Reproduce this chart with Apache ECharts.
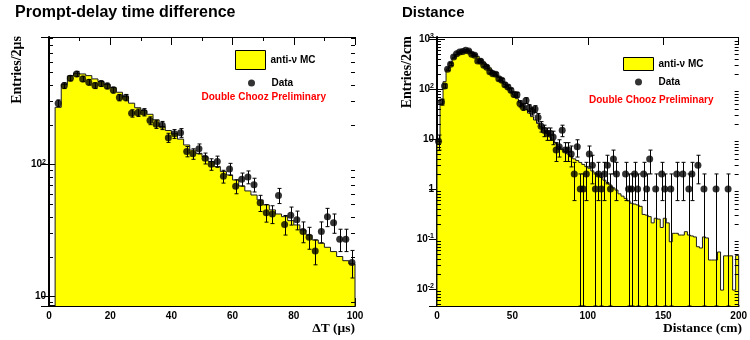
<!DOCTYPE html>
<html><head><meta charset="utf-8">
<script src="https://cdn.jsdelivr.net/npm/echarts@6/dist/echarts.min.js"></script>
<style>html,body{margin:0;padding:0;background:#fff}#c{width:750px;height:340px}</style>
</head><body><div id="c"></div>
<script>
// ---------------- DATA ----------------
// Left: prompt-delay time difference, 2 us bins starting at 2 us
const dtBinStart = 2, dtBinWidth = 2;
const dtMC = [270,403,467,489,483,469,443,423,403,381,351,325,290,268,255,239,217,193,180,170,
  155,140,128,121,114,105,96,88,83,76,68.5,62.8,58.5,53.7,49.2,45.1,42.0,40.1,37.4,34.7,
  31.8,29.1,26.7,25.2,23.5,21.8,20.0,18.6,17.6];
const dtData = [290,394,449,483,443,418,394,408,392,365,320,320,243,246,248,214,201,197,159,170,
  173,125,120,131,111,100,105,81,92,68,77,80,70,51,43,42,58,35,41,38,
  31,28,22,31,40,36,27,27,18];
const dtYLabels = [10, 100];
const dtYMinor = [9,20,30,40,50,60,70,80,90,200,300,400,500,600,700,800,900];

// Right: distance, 2 cm bins starting at 0 cm
const distBinStart = 0, distBinWidth = 2;
const distMC = [9.5,50,140,250,340,420,490,530,560,575,570,540,500,450,400,350,305,265,230,200,
  170,145,123,105,90,76,64,54,46,39,33,28,24,20.5,17.5,15,13,11,9.5,8.2,
  7.0,6.2,5.6,5.0,4.5,4.0,3.7,3.4,3.1,2.8,2.6,2.3,2.1,1.9,1.7,1.5,1.35,1.2,1.05,0.95,
  0.8,0.72,0.65,0.58,0.52,0.5,0.48,0.45,0.31,0.30,0.28,0.21,0.26,0.25,0.17,0.26,0.21,0.088,0.13,0.13,
  0.12,0.12,0.14,0.12,0.115,0.11,0.07,0.066,0.11,0.105,0.038,0.038,0.038,0.055,0.0095,0.046,0.046,0.046,0.0095,0.047];
const distData = [9,55,115,248,312,437,508,550,560,594,575,494,472,363,357,298,272,222,202,197,
  161,149,122,110,94,78,77,51,44,59,42,36,40,27,18,15,13,13,11,6,
  7,15,6,6,5,2,7,1,1,2,5,3,1,2,1,2,3,1,4,2,
  0,0,2,1,1,2,1,0,2,1,4,0,1,0,2,1,0,1,0,2,
  0,2,0,1,2,0,3,0,1,0,0,0,1,0,0,0,1,0,0,0];
const distYLabels = [0.01, 0.1, 1, 10, 100, 1000];
const distYMinor = [0.005,0.006,0.007,0.008,0.009,0.02,0.03,0.04,0.05,0.06,0.07,0.08,0.09,
  0.2,0.3,0.4,0.5,0.6,0.7,0.8,0.9,2,3,4,5,6,7,8,9,20,30,40,50,60,70,80,90,200,300,400,500,600,700,800,900];

// ---------------- LAYOUT ----------------
const dtX = [0, 100], dtY = [8.44, 920];
const distX = [0, 200], distY = [0.00457, 1096];
const SANS = '"Liberation Sans", Arial, sans-serif';
const SERIF = '"Liberation Serif", "Times New Roman", serif';

function edges(start, width, n) { const e = []; for (let i = 0; i <= n; i++) e.push(start + i * width); return e; }

function histSeries(ed, vals, xi, yi, yMin) {
  return {
    type: 'custom', name: 'anti-ν MC', xAxisIndex: xi, yAxisIndex: yi, silent: true, z: 1,
    data: vals.map((v, i) => [ed[i], ed[i + 1], v]),
    encode: { x: [0, 1], y: 2 },
    renderItem: (params, api) => {
      if (params.dataIndex !== 0) return null;
      const pts = [api.coord([ed[0], yMin])];
      vals.forEach((v, i) => { pts.push(api.coord([ed[i], v])); pts.push(api.coord([ed[i + 1], v])); });
      pts.push(api.coord([ed[vals.length], yMin]));
      return { type: 'group', children: [
        { type: 'polygon', shape: { points: pts }, style: { fill: '#ffff00' } },
        { type: 'polyline', shape: { points: pts }, style: { fill: null, stroke: '#1a1a1a', lineWidth: 1 } }
      ]};
    }
  };
}

function dataPoints(ed, vals) {
  const out = [];
  vals.forEach((v, i) => { if (v > 0) out.push([(ed[i] + ed[i + 1]) / 2, v]); });
  return out;
}

function errSeries(pts, xi, yi, yMin) {
  return {
    type: 'custom', xAxisIndex: xi, yAxisIndex: yi, silent: true, z: 3,
    data: pts.map(p => { const e = Math.sqrt(p[1]); return [p[0], p[1], Math.max(p[1] - e, yMin), p[1] + e]; }),
    encode: { x: 0, y: 1 },
    renderItem: (params, api) => {
      const lo = api.coord([api.value(0), api.value(2)]);
      const hi = api.coord([api.value(0), api.value(3)]);
      const x = Math.round(lo[0]) + 0.5;
      const st = { stroke: '#000', lineWidth: 1 };
      return { type: 'group', children: [
        { type: 'line', shape: { x1: x, y1: lo[1], x2: x, y2: hi[1] }, style: st },
        { type: 'line', shape: { x1: x - 2, y1: lo[1], x2: x + 2, y2: lo[1] }, style: st },
        { type: 'line', shape: { x1: x - 2, y1: hi[1], x2: x + 2, y2: hi[1] }, style: st }
      ]};
    }
  };
}

function minorTickSeries(ticks, xr, xi, yi) {
  return {
    type: 'custom', xAxisIndex: xi, yAxisIndex: yi, silent: true, z: 5,
    data: ticks.map(t => [xr[0], t]),
    encode: { x: 0, y: 1 },
    renderItem: (params, api) => {
      const a = api.coord([xr[0], api.value(1)]);
      const b = api.coord([xr[1], api.value(1)]);
      const y = Math.round(a[1]) + 0.5;
      const st = { stroke: '#000', lineWidth: 1 };
      return { type: 'group', children: [
        { type: 'line', shape: { x1: a[0], y1: y, x2: a[0] + 4, y2: y }, style: st },
        { type: 'line', shape: { x1: b[0] - 4, y1: y, x2: b[0], y2: y }, style: st }
      ]};
    }
  };
}

function logLabel(v) {
  const l = Math.log10(v), e = Math.round(l);
  if (Math.abs(l - e) > 1e-6) return '';
  if (e === 0) return '{b|1}';
  if (e === 1) return '{b|10}';
  return '{b|10}{s|' + (e < 0 ? '-' + (-e) : e) + '}';
}
const logRich = {
  b: { fontFamily: SANS, fontWeight: 'bold', fontSize: 10, color: '#000', lineHeight: 12 },
  s: { fontFamily: SANS, fontWeight: 'bold', fontSize: 7, color: '#000', verticalAlign: 'top', lineHeight: 12, padding: [0, 0, 5, 0] }
};

function xAxes(gi, xr, interval, minor) {
  const base = {
    type: 'value', gridIndex: gi, min: xr[0], max: xr[1], interval: interval,
    splitLine: { show: false },
    minorTick: { show: minor, splitNumber: 2, length: 4, lineStyle: { color: '#000', width: 1 } }
  };
  return [
    Object.assign({}, base, {
      position: 'bottom',
      axisLine: { show: true, lineStyle: { color: '#000', width: 2 } },
      axisTick: { show: true, inside: true, length: 8, lineStyle: { color: '#000', width: 1 } },
      axisLabel: { show: true, margin: 5, color: '#000', fontFamily: SANS, fontWeight: 'bold', fontSize: 10 }
    }),
    Object.assign({}, base, {
      position: 'top',
      axisLine: { show: true, lineStyle: { color: '#000', width: 1 } },
      axisTick: { show: true, inside: true, length: 8, lineStyle: { color: '#000', width: 1 } },
      axisLabel: { show: false }
    })
  ];
}

function yAxes(gi, yr) {
  const base = { type: 'log', logBase: 10, gridIndex: gi, min: yr[0], max: yr[1], splitLine: { show: false } };
  return [
    Object.assign({}, base, {
      position: 'left',
      axisLine: { show: true, lineStyle: { color: '#000', width: 2 } },
      axisTick: { show: true, inside: true, length: 8, lineStyle: { color: '#000', width: 1 } },
      axisLabel: { show: true, margin: 3, formatter: logLabel, rich: logRich, showMinLabel: false, showMaxLabel: false }
    }),
    Object.assign({}, base, {
      position: 'right',
      axisLine: { show: true, lineStyle: { color: '#000', width: 1 } },
      axisTick: { show: true, inside: true, length: 8, lineStyle: { color: '#000', width: 1 } },
      axisLabel: { show: false }
    })
  ];
}

const dtEdges = edges(dtBinStart, dtBinWidth, dtMC.length);
const distEdges = edges(distBinStart, distBinWidth, distMC.length);
const dtPts = dataPoints(dtEdges, dtData);
const distPts = dataPoints(distEdges, distData);

const legendText = { color: '#000', fontFamily: SANS, fontWeight: 'bold', fontSize: 10 };
const mcIcon = { name: 'anti-ν MC', icon: 'rect', itemStyle: { color: '#ffff00', borderColor: '#000', borderWidth: 1 } };
const dataIcon = { name: 'Data', icon: 'circle', itemStyle: { color: '#000' } };

const option = {
  animation: false,
  backgroundColor: '#fff',
  grid: [
    { left: 49, top: 37, width: 306, height: 269 },
    { left: 437, top: 37, width: 305.5, height: 269 }
  ],
  xAxis: [].concat(xAxes(0, dtX, 20, true), xAxes(1, distX, 50, false)),
  yAxis: [].concat(yAxes(0, dtY), yAxes(1, distY)),
  legend: [
    { left: 230, top: 45, itemWidth: 30, itemHeight: 19, selectedMode: false,
      textStyle: Object.assign({ padding: [5, 0, 0, 0] }, legendText), data: [mcIcon] },
    { left: 243, top: 73, itemWidth: 30, itemHeight: 7, selectedMode: false, textStyle: legendText, data: [dataIcon] },
    { left: 618, top: 52, itemWidth: 30, itemHeight: 13, selectedMode: false, textStyle: legendText, data: [mcIcon] },
    { left: 630, top: 72, itemWidth: 30, itemHeight: 7, selectedMode: false, textStyle: legendText, data: [dataIcon] }
  ],
  graphic: [
    { type: 'text', x: 15, y: 12.5, style: { text: 'Prompt-delay time difference', fill: '#000', font: 'bold 16px ' + SANS, textVerticalAlign: 'middle' } },
    { type: 'text', x: 402, y: 12.5, style: { text: 'Distance', fill: '#000', font: 'bold 15px ' + SANS, textVerticalAlign: 'middle' } },
    { type: 'text', x: 201.5, y: 97.5, style: { text: 'Double Chooz Preliminary', fill: '#ff0000', font: 'bold 10px ' + SANS, textVerticalAlign: 'middle' } },
    { type: 'text', x: 589, y: 100, style: { text: 'Double Chooz Preliminary', fill: '#ff0000', font: 'bold 10px ' + SANS, textVerticalAlign: 'middle' } },
    { type: 'text', x: 355, y: 329, style: { text: 'ΔT (μs)', fill: '#000', font: 'bold 13.5px ' + SERIF, textAlign: 'right', textVerticalAlign: 'middle' } },
    { type: 'text', x: 742, y: 329, style: { text: 'Distance (cm)', fill: '#000', font: 'bold 13.5px ' + SERIF, textAlign: 'right', textVerticalAlign: 'middle' } },
    { type: 'text', x: 17, y: 36, rotation: Math.PI / 2, style: { text: 'Entries/2μs', fill: '#000', font: 'bold 14px ' + SERIF, textAlign: 'right', textVerticalAlign: 'middle' } },
    { type: 'text', x: 407, y: 36, rotation: Math.PI / 2, style: { text: 'Entries/2cm', fill: '#000', font: 'bold 14px ' + SERIF, textAlign: 'right', textVerticalAlign: 'middle' } }
  ],
  series: [
    histSeries(dtEdges, dtMC, 0, 0, dtY[0]),
    errSeries(dtPts, 0, 0, dtY[0]),
    { type: 'scatter', name: 'Data', xAxisIndex: 0, yAxisIndex: 0, symbol: 'circle', symbolSize: 7, itemStyle: { color: '#000' }, data: dtPts, z: 4, silent: true },
    minorTickSeries(dtYMinor, dtX, 0, 0),
    histSeries(distEdges, distMC, 2, 2, distY[0]),
    errSeries(distPts, 2, 2, distY[0]),
    { type: 'scatter', name: 'Data', xAxisIndex: 2, yAxisIndex: 2, symbol: 'circle', symbolSize: 7, itemStyle: { color: '#000' }, data: distPts, z: 4, silent: true },
    minorTickSeries(distYMinor, distX, 2, 2)
  ]
};
const chart = echarts.init(document.getElementById('c'), null, { renderer: 'canvas' });
chart.setOption(option);
</script></body></html>
